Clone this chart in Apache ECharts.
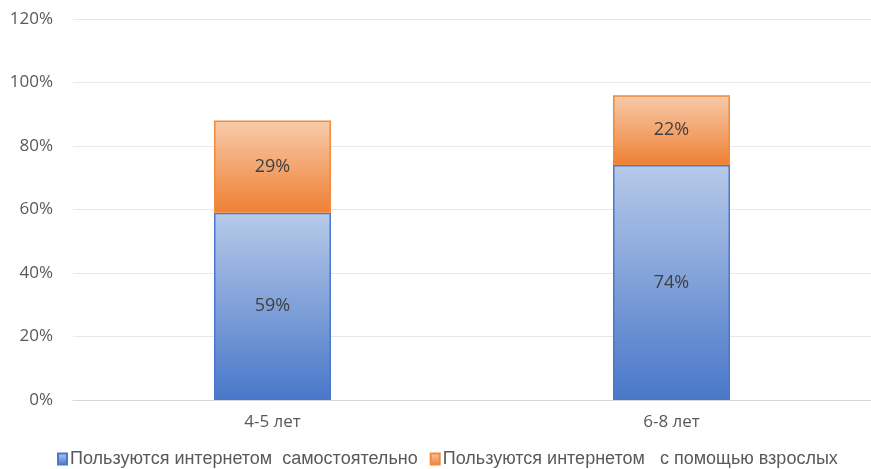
<!DOCTYPE html>
<html><head><meta charset="utf-8">
<script src="https://cdn.jsdelivr.net/npm/echarts@6/dist/echarts.min.js"></script>
<style>html,body{margin:0;padding:0;background:#fff}#c{width:871px;height:469px}</style>
</head><body><div id="c"></div>
<script>
const categories = ['4-5 лет', '6-8 лет'];
const seriesNames = ['Пользуются интернетом  самостоятельно', 'Пользуются интернетом   с помощью взрослых'];
const selfValues = [59, 74];
const adultValues = [29, 22];
const yTicks = [0, 20, 40, 60, 80, 100, 120];

const chart = echarts.init(document.getElementById('c'));
const grad = (top, bottom) => new echarts.graphic.LinearGradient(0, 0, 0, 1, [{offset: 0, color: top}, {offset: 1, color: bottom}]);
const labelStyle = {show: true, position: 'inside', formatter: p => p.value + '%', color: '#404040', fontSize: 18, fontFamily: 'Open Sans'};
chart.setOption({
  animation: false,
  grid: {left: 73, right: 0, top: 19, height: 381},
  legend: {
    top: 449, left: 57, padding: 0, itemWidth: 9, itemHeight: 11, itemGap: 12, icon: 'rect',
    textStyle: {color: '#595959', fontSize: 18, lineHeight: 20, fontFamily: 'Liberation Sans', padding: [0, 0, 0, -2]},
    data: seriesNames
  },
  xAxis: {
    type: 'category', data: categories,
    axisLine: {lineStyle: {color: '#d9d9d9'}}, axisTick: {show: false},
    axisLabel: {color: '#595959', fontSize: 17, fontFamily: 'Open Sans', margin: 14}
  },
  yAxis: {
    type: 'value', min: yTicks[0], max: yTicks[yTicks.length - 1], interval: 20,
    axisLabel: {formatter: '{value}%', color: '#595959', fontSize: 17, fontFamily: 'Open Sans', margin: 20},
    splitLine: {lineStyle: {color: '#e8e8e8'}}, axisLine: {show: false}, axisTick: {show: false}
  },
  series: [
    {name: seriesNames[0], type: 'bar', stack: 'a', data: selfValues, barWidth: 117,
     itemStyle: {color: grad('#b7cae9', '#4977c9'), borderColor: '#4a78cc', borderWidth: 1.5},
     label: labelStyle},
    {name: seriesNames[1], type: 'bar', stack: 'a', data: adultValues, barWidth: 117,
     itemStyle: {color: grad('#f8cbab', '#ee8033'), borderColor: '#ef8a3e', borderWidth: 1.5},
     label: labelStyle}
  ]
});
</script></body></html>
